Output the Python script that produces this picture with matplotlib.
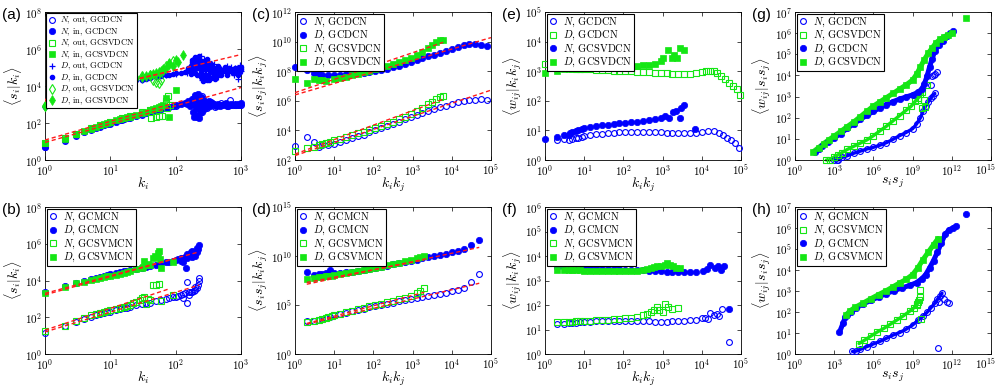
import matplotlib
matplotlib.use("Agg")
import matplotlib.pyplot as plt
import matplotlib.transforms as mtransforms
from matplotlib.ticker import FixedLocator, NullLocator
import numpy as np

plt.rcParams.update({
    "font.family": "serif",
    "font.serif": ["cmr10", "DejaVu Serif"],
    "mathtext.fontset": "cm",
    "axes.formatter.use_mathtext": True,
    "axes.unicode_minus": False,
    "xtick.direction": "in",
    "ytick.direction": "in",
    "xtick.top": True,
    "ytick.right": True,
    "xtick.major.size": 3,
    "ytick.major.size": 3,
    "xtick.major.width": 0.5,
    "ytick.major.width": 0.5,
    "axes.linewidth": 0.6,
    "xtick.labelsize": 8,
    "ytick.labelsize": 8,
})

BLUE = "#0000ff"
GREEN = "#14e614"
RED = "#ff1a1a"

# ── (a) pairs of (k_i, log10 <s_i|k_i>) ───────────────────────────────────────
a_n_out_gcdcn = [(1, 0.68), (2, 1.04), (3, 1.32), (5, 1.62), (7, 1.8), (10, 1.97), (15, 2.15),
                 (20, 2.27), (30, 2.45), (50, 2.67), (70, 2.8), (100, 2.94), (150, 3.05), (200, 3.3),
                 (220, 2.7), (250, 3.45), (280, 3.1), (300, 2.8), (350, 3.15), (400, 2.85), (500, 3.1),
                 (600, 2.9), (676, 3.27), (700, 3.0), (800, 3.05), (900, 3.0), (1000, 2.95)]
a_n_in_gcdcn = [(1, 0.72), (2, 1.08), (3, 1.35), (4, 1.53), (5, 1.65), (6, 1.75), (7, 1.83), (8, 1.9),
                (9, 1.95), (10, 2.0), (12, 2.08), (14, 2.14), (16, 2.2), (18, 2.25), (20, 2.3), (25, 2.4),
                (30, 2.48), (35, 2.55), (40, 2.6), (50, 2.7), (60, 2.77), (70, 2.83), (80, 2.88),
                (90, 2.93), (100, 2.97), (120, 3.02), (140, 3.07), (150, 3.1), (170, 3.2), (190, 3.35),
                (200, 3.5), (210, 3.3), (220, 3.55), (230, 3.1), (240, 2.9), (250, 2.6), (200, 2.45),
                (210, 2.3), (220, 2.8), (260, 3.3), (280, 3.0), (300, 2.85), (320, 3.2), (350, 2.95),
                (380, 3.05), (420, 2.9), (460, 3.0), (500, 2.95), (550, 3.05), (600, 2.95), (650, 3.0),
                (700, 3.05), (800, 3.0), (900, 3.05), (1000, 3.08), (270, 2.75), (240, 3.4), (230, 2.25),
                (155, 3.2), (165, 2.9), (175, 3.3), (185, 2.6), (195, 3.15), (205, 2.8), (215, 3.45),
                (225, 3.0), (235, 2.55), (245, 3.2), (255, 2.95), (265, 3.1), (275, 2.9), (290, 3.15),
                (310, 3.0), (330, 2.9), (360, 3.1), (400, 3.0), (440, 3.05), (480, 2.9), (530, 3.0),
                (580, 3.1), (630, 2.9), (680, 2.95), (750, 3.0), (850, 2.95), (950, 3.0), (200, 3.0),
                (250, 3.35), (300, 3.1), (190, 2.35)]
a_n_out_gcsvdcn = [(1, 0.92), (2, 1.18), (3, 1.42), (5, 1.72), (7, 1.9), (10, 2.07), (15, 2.25),
                   (20, 2.37), (30, 2.57), (40, 2.7), (42, 2.25), (50, 2.3), (55, 2.82), (56, 2.38),
                   (62, 2.4), (70, 3.2), (74, 2.79), (75, 3.45), (82, 2.97)]
a_n_in_gcsvdcn = [(1, 0.9), (2, 1.15), (3, 1.4), (4, 1.58), (5, 1.7), (6, 1.8), (7, 1.88), (8, 1.95),
                  (9, 2.0), (10, 2.05), (12, 2.14), (14, 2.2), (16, 2.26), (18, 2.3), (20, 2.35),
                  (25, 2.45), (30, 2.55), (35, 2.62), (40, 2.68), (45, 2.75), (50, 2.8), (55, 2.85),
                  (60, 2.9), (65, 2.95), (70, 3.35), (80, 2.3), (100, 3.8)]
a_d_out_gcdcn = [(1, 2.85), (2, 3.36), (3, 3.55), (5, 3.77), (7, 3.91), (10, 4.0), (15, 4.15),
                 (20, 4.22), (30, 4.34), (50, 4.49), (70, 4.58), (100, 4.67), (150, 4.7), (180, 5.2),
                 (200, 5.5), (220, 5.45), (240, 5.6), (260, 5.25), (280, 4.8), (300, 5.0), (330, 4.4),
                 (360, 4.55), (400, 4.75), (450, 4.5), (500, 4.9), (560, 4.7), (620, 4.85), (700, 5.05),
                 (780, 4.6), (850, 4.9), (900, 4.37), (950, 5.15), (250, 4.3), (320, 5.35), (600, 5.1),
                 (160, 5.0), (190, 5.35), (210, 5.0), (230, 5.3), (270, 5.45), (290, 4.65), (310, 4.5),
                 (340, 5.0), (380, 5.2), (420, 4.95), (480, 4.7), (540, 5.0), (660, 4.7), (740, 4.85),
                 (820, 5.0), (1000, 4.8)]
a_d_in_gcdcn = [(1, 2.85), (2, 3.38), (3, 3.56), (4, 3.69), (5, 3.78), (6, 3.85), (7, 3.92), (8, 3.96),
                (9, 3.99), (10, 4.01), (12, 4.07), (14, 4.12), (16, 4.16), (18, 4.2), (20, 4.23),
                (25, 4.3), (30, 4.35), (35, 4.4), (40, 4.44), (50, 4.5), (60, 4.55), (70, 4.59),
                (80, 4.62), (90, 4.65), (100, 4.68), (120, 4.72), (140, 4.76), (150, 4.8), (160, 4.95),
                (170, 5.1), (180, 5.3), (190, 5.45), (200, 5.55), (210, 5.4), (220, 5.2), (230, 5.6),
                (240, 5.35), (250, 5.1), (260, 4.9), (270, 4.6), (280, 4.4), (290, 5.2), (300, 4.3),
                (320, 4.5), (340, 4.75), (360, 4.9), (380, 4.6), (400, 5.0), (430, 4.7), (460, 4.85),
                (500, 4.6), (550, 4.9), (600, 4.75), (650, 5.0), (700, 4.8), (800, 4.95), (900, 5.0),
                (1000, 4.9), (200, 4.7), (250, 4.45), (230, 4.95), (350, 5.2), (450, 5.1), (300, 5.45),
                (270, 5.3), (190, 5.05), (210, 4.6), (155, 5.0), (165, 4.85), (175, 5.4), (185, 4.9),
                (195, 5.25), (205, 5.1), (215, 4.95), (225, 5.45), (235, 5.15), (245, 4.75), (255, 5.3),
                (265, 5.05), (275, 4.9), (285, 5.35), (295, 4.6), (310, 4.95), (330, 5.1), (345, 4.45),
                (365, 5.05), (390, 4.8), (410, 4.55), (440, 4.95), (470, 4.65), (520, 4.8), (570, 5.05),
                (620, 4.6), (680, 4.9), (750, 4.7), (850, 4.8), (950, 4.75), (240, 4.5), (260, 4.25),
                (280, 4.55), (320, 4.35), (400, 4.4), (180, 4.75), (170, 4.65), (1000, 5.05),
                (900, 4.6), (600, 4.9)]
a_d_out_gcsvdcn = [(1, 2.92), (2, 3.36), (3, 3.6), (5, 3.86), (7, 4.0), (10, 4.12), (15, 4.27),
                   (20, 4.37), (30, 4.52), (40, 4.62), (45, 4.3), (50, 4.2), (55, 4.15), (60, 4.35),
                   (65, 4.85), (70, 5.1), (80, 5.2), (90, 5.35)]
a_d_in_gcsvdcn = [(1, 2.9), (2, 3.35), (3, 3.58), (4, 3.72), (5, 3.85), (6, 3.92), (7, 3.98), (8, 4.04),
                  (9, 4.08), (10, 4.1), (12, 4.17), (14, 4.22), (16, 4.27), (18, 4.31), (20, 4.35),
                  (25, 4.43), (30, 4.5), (35, 4.55), (40, 4.6), (45, 4.65), (50, 4.68), (55, 4.75),
                  (60, 4.8), (65, 4.9), (70, 5.0), (80, 5.25), (90, 5.1), (100, 5.4), (110, 5.3),
                  (130, 5.68)]
a_fit_d_gcdcn = [(1, 3.18), (1000, 5.7)]
a_fit_d_gcsvdcn = [(1, 3.27), (140, 4.98)]
a_fit_n_gcdcn = [(1, 0.95), (1000, 3.92)]
a_fit_n_gcsvdcn = [(1, 1.08), (140, 3.25)]

# ── (b) pairs of (k_i, log10 <s_i|k_i>) ───────────────────────────────────────
b_n_gcmcn = [(1, 1.17), (2, 1.5), (3, 1.73), (4, 1.91), (5, 2.02), (6, 2.1), (7, 2.17), (8, 2.22),
             (9, 2.27), (10, 2.31), (12, 2.38), (14, 2.44), (16, 2.5), (18, 2.53), (20, 2.56),
             (25, 2.64), (30, 2.71), (35, 2.76), (40, 2.8), (50, 2.89), (60, 2.95), (70, 3.0),
             (80, 3.05), (90, 3.09), (100, 3.12), (110, 3.15), (120, 3.2), (130, 3.25), (140, 3.3),
             (150, 3.9), (150, 2.76), (160, 3.35), (170, 3.4), (180, 3.38), (190, 3.45), (200, 3.5),
             (210, 3.6), (220, 3.75), (230, 4.12), (225, 4.0), (130, 3.05), (160, 3.2), (200, 3.65)]
b_d_gcmcn = [(1, 3.36), (2, 3.72), (3, 3.88), (4, 3.97), (5, 4.08), (6, 4.14), (7, 4.2), (8, 4.25),
             (9, 4.3), (10, 4.35), (12, 4.4), (14, 4.45), (16, 4.5), (18, 4.54), (20, 4.57),
             (25, 4.64), (30, 4.69), (35, 4.74), (40, 4.78), (50, 4.87), (60, 4.93), (70, 5.0),
             (80, 5.03), (90, 5.07), (100, 5.1), (110, 5.15), (120, 5.2), (130, 5.25), (140, 5.3),
             (150, 5.2), (160, 5.35), (170, 5.4), (180, 5.3), (190, 5.45), (200, 5.5), (210, 5.55),
             (220, 5.7), (230, 5.92), (144, 4.69), (150, 5.45), (130, 5.0), (170, 5.55), (200, 5.35),
             (120, 5.05), (180, 5.6), (210, 5.75)]
b_n_gcsvmcn = [(1, 1.26), (2, 1.55), (3, 1.77), (4, 1.95), (5, 2.1), (6, 2.18), (7, 2.25), (8, 2.3),
               (9, 2.36), (10, 2.4), (12, 2.47), (14, 2.53), (16, 2.58), (18, 2.63), (20, 2.68),
               (22, 2.75), (25, 2.85), (28, 2.95), (30, 3.05), (33, 3.12), (35, 2.7), (38, 3.0),
               (40, 2.95), (45, 3.75), (50, 3.78), (55, 3.8), (60, 2.89), (90, 3.2)]
b_d_gcsvmcn = [(1, 3.3), (2, 3.66), (3, 3.84), (4, 3.94), (5, 4.02), (6, 4.08), (7, 4.14), (8, 4.19),
               (9, 4.23), (10, 4.26), (12, 4.32), (14, 4.38), (16, 4.43), (18, 4.47), (20, 4.51),
               (25, 4.6), (30, 4.7), (32, 4.75), (33, 5.05), (35, 4.84), (38, 4.9), (40, 4.85),
               (45, 5.2), (48, 5.35), (50, 5.3), (53, 5.5), (55, 5.6), (58, 5.15), (60, 4.69),
               (90, 5.02)]
b_fit_d_gcmcn = [(1, 3.3), (230, 5.56)]
b_fit_d_gcsvmcn = [(1, 3.22), (100, 5.2)]
b_fit_n_gcmcn = [(1, 1.2), (230, 3.75)]
b_fit_n_gcsvmcn = [(1, 1.3), (80, 3.55)]

# ── (c) pairs of (log10 k_ik_j, log10 <s_is_j|k_ik_j>) ───────────────────────
c_n_gcdcn = [(0, 2.94), (0.3, 3.57), (0.48, 3.24), (0.6, 2.86), (0.7, 3.0), (0.85, 3.02), (1.0, 3.08),
             (1.15, 3.2), (1.3, 3.33), (1.45, 3.46), (1.6, 3.6), (1.75, 3.72), (1.9, 3.86),
             (2.05, 4.02), (2.2, 4.15), (2.35, 4.3), (2.5, 4.45), (2.65, 4.6), (2.8, 4.75),
             (2.95, 4.9), (3.1, 5.04), (3.25, 5.17), (3.4, 5.3), (3.55, 5.43), (3.7, 5.55),
             (3.85, 5.67), (4.0, 5.8), (4.15, 5.9), (4.3, 6.0), (4.45, 6.06), (4.6, 6.08),
             (4.75, 6.09), (4.9, 6.08)]
c_d_gcdcn = [(0, 8.29), (0.3, 8.11), (0.48, 7.89), (0.6, 7.8), (0.7, 7.75), (0.85, 7.71), (1.0, 7.73),
             (1.15, 7.75), (1.3, 7.8), (1.45, 8.02), (1.6, 7.85), (1.75, 7.88), (1.9, 7.92),
             (2.05, 8.0), (2.2, 8.08), (2.35, 8.17), (2.5, 8.27), (2.65, 8.37), (2.8, 8.5),
             (2.95, 8.62), (3.1, 8.75), (3.25, 8.88), (3.4, 9.0), (3.55, 9.12), (3.7, 9.25),
             (3.85, 9.38), (4.0, 9.52), (4.15, 9.65), (4.3, 9.78), (4.45, 9.85), (4.6, 9.86),
             (4.75, 9.8), (4.9, 9.72)]
c_n_gcsvdcn = [(0, 2.63), (0.3, 2.79), (0.48, 2.9), (0.6, 2.98), (0.7, 3.06), (0.78, 3.12), (0.9, 3.22),
               (1.0, 3.32), (1.15, 3.44), (1.3, 3.56), (1.45, 3.68), (1.6, 3.8), (1.75, 3.92),
               (1.9, 4.04), (2.05, 4.16), (2.2, 4.3), (2.35, 4.45), (2.5, 4.6), (2.65, 4.75),
               (2.8, 4.92), (2.95, 5.1), (3.1, 5.3), (3.25, 5.5), (3.4, 5.75), (3.5, 5.95),
               (3.6, 6.1), (3.7, 6.25), (3.78, 6.3)]
c_d_gcsvdcn = [(0, 7.44), (0.3, 7.21), (0.48, 7.5), (0.6, 7.39), (0.7, 7.39), (0.78, 7.35), (0.9, 8.63),
               (1.0, 7.5), (1.15, 7.55), (1.3, 7.63), (1.45, 7.72), (1.6, 7.82), (1.75, 7.92),
               (1.9, 8.03), (2.05, 8.14), (2.2, 8.26), (2.35, 8.38), (2.5, 8.5), (2.65, 8.63),
               (2.8, 8.77), (2.95, 8.92), (3.1, 9.1), (3.25, 9.3), (3.4, 9.55), (3.5, 9.8),
               (3.6, 10.0), (3.7, 10.12), (3.78, 10.1)]
c_fit_d_gcdcn = [(0, 6.4), (5, 10.27)]
c_fit_d_gcsvdcn = [(0, 6.55), (3.78, 9.95)]
c_fit_n_gcdcn = [(0, 2.3), (5, 6.72)]
c_fit_n_gcsvdcn = [(0, 2.4), (3.78, 6.1)]

# ── (d) ───────────────────────────────────────────────────────────────────────
d_n_gcmcn = [(0.3, 3.32), (0.48, 3.39), (0.6, 3.48), (0.7, 3.59), (0.78, 3.68), (0.9, 3.8), (1.0, 3.93),
             (1.15, 4.05), (1.3, 4.2), (1.45, 4.35), (1.6, 4.5), (1.75, 4.62), (1.9, 4.75),
             (2.05, 4.88), (2.2, 5.0), (2.35, 5.12), (2.5, 5.25), (2.65, 5.37), (2.8, 5.5),
             (2.95, 5.62), (3.1, 5.74), (3.25, 5.86), (3.4, 5.96), (3.55, 6.06), (3.7, 6.16),
             (3.85, 6.26), (4.0, 6.38), (4.15, 6.5), (4.3, 6.7), (4.49, 7.32), (4.7, 8.14)]
d_d_gcmcn = [(0.3, 8.34), (0.48, 8.07), (0.6, 8.17), (0.7, 8.2), (0.78, 8.3), (0.9, 8.58), (1.0, 8.27),
             (1.15, 8.3), (1.3, 8.34), (1.45, 8.4), (1.6, 8.5), (1.75, 8.58), (1.9, 8.68),
             (2.05, 8.8), (2.2, 8.9), (2.35, 9.0), (2.5, 9.15), (2.65, 9.25), (2.8, 9.38),
             (2.95, 9.52), (3.1, 9.64), (3.25, 9.76), (3.4, 9.88), (3.55, 9.98), (3.7, 10.1),
             (3.85, 10.22), (4.0, 10.36), (4.15, 10.5), (4.3, 10.68), (4.49, 11.1), (4.7, 11.63)]
d_n_gcsvmcn = [(0.3, 3.25), (0.48, 3.35), (0.6, 3.45), (0.7, 3.6), (0.78, 3.68), (0.85, 3.76),
               (0.95, 3.86), (1.0, 3.95), (1.15, 4.1), (1.3, 4.25), (1.45, 4.4), (1.6, 4.55),
               (1.75, 4.7), (1.9, 4.85), (2.05, 5.0), (2.2, 5.15), (2.35, 5.3), (2.5, 5.45),
               (2.65, 5.6), (2.8, 5.75), (2.95, 5.95), (3.1, 6.2), (3.2, 6.45), (3.3, 6.75)]
d_d_gcsvmcn = [(0.3, 7.66), (0.48, 7.8), (0.6, 7.85), (0.7, 7.9), (0.78, 7.93), (0.85, 7.96),
               (0.95, 8.0), (1.0, 8.07), (1.15, 8.15), (1.3, 8.25), (1.45, 8.34), (1.6, 8.44),
               (1.75, 8.55), (1.9, 8.68), (2.05, 8.8), (2.2, 8.92), (2.35, 9.04), (2.5, 9.16),
               (2.65, 9.3), (2.8, 9.45), (2.95, 9.6), (3.1, 9.75), (3.2, 9.85), (3.3, 9.95)]
d_fit_d_gcmcn = [(0.3, 7.12), (4.7, 10.88)]
d_fit_d_gcsvmcn = [(0.3, 7.3), (3.3, 9.6)]
d_fit_n_gcmcn = [(0.3, 3.05), (4.7, 7.22)]
d_fit_n_gcsvmcn = [(0.3, 3.12), (3.3, 6.3)]

# ── (e) pairs of (log10 k_ik_j, log10 <w_ij|k_ik_j>) ─────────────────────────
e_n_gcdcn = [(0.3, 0.68), (0.48, 0.71), (0.6, 0.69), (0.7, 0.72), (0.78, 0.74), (0.85, 0.76),
             (0.95, 0.79), (1.0, 0.81), (1.15, 0.84), (1.3, 0.87), (1.45, 0.89), (1.6, 0.91),
             (1.75, 0.92), (1.9, 0.93), (2.05, 0.94), (2.2, 0.94), (2.35, 0.94), (2.5, 0.94),
             (2.65, 0.94), (2.8, 0.93), (2.95, 0.93), (3.1, 0.92), (3.25, 0.92), (3.4, 0.91),
             (3.55, 0.91), (3.7, 0.91), (3.85, 0.92), (4.0, 0.95), (4.15, 0.99), (4.3, 0.99),
             (4.45, 0.92), (4.55, 0.85), (4.65, 0.75), (4.75, 0.67), (4.85, 0.57), (4.95, 0.4)]
e_d_gcdcn = [(0, 3.26), (0.3, 3.2), (0.48, 3.15), (0.6, 3.12), (0.7, 3.1), (0.78, 3.08), (0.9, 3.07),
             (1.0, 3.07), (1.15, 3.06), (1.3, 3.05), (1.45, 3.04), (1.6, 3.03), (1.75, 3.02),
             (1.9, 3.01), (2.05, 3.0), (2.2, 2.99), (2.35, 2.98), (2.5, 2.97), (2.65, 2.96),
             (2.8, 2.95), (2.95, 2.94), (3.1, 2.93), (3.25, 2.92), (3.4, 2.91), (3.55, 2.91),
             (3.7, 2.92), (3.85, 2.94), (4.0, 2.97), (4.1, 2.99), (4.2, 3.0), (4.3, 2.99),
             (4.4, 2.95), (4.5, 2.85), (4.6, 2.72), (4.7, 2.6), (4.8, 2.5), (4.9, 2.4), (4.97, 2.2)]
e_n_gcsvdcn = [(0, 0.71), (0.3, 0.77), (0.48, 0.86), (0.6, 0.85), (0.65, 0.9), (0.7, 0.93), (0.78, 0.97),
               (0.85, 1.0), (0.95, 1.04), (1.0, 1.07), (1.15, 1.11), (1.3, 1.15), (1.45, 1.17),
               (1.6, 1.19), (1.75, 1.21), (1.9, 1.24), (2.05, 1.26), (2.2, 1.28), (2.35, 1.3),
               (2.5, 1.32), (2.65, 1.34), (2.8, 1.37), (2.95, 1.41), (3.05, 1.47), (3.17, 1.42),
               (3.27, 1.61), (3.34, 1.67), (3.44, 1.42), (3.48, 1.76), (3.55, 1.85), (3.82, 1.05)]
e_d_gcsvdcn = [(0, 2.94), (0.3, 3.01), (0.48, 3.07), (0.6, 3.08), (0.7, 3.09), (0.78, 3.1), (0.9, 3.1),
               (1.0, 3.11), (1.15, 3.12), (1.3, 3.13), (1.45, 3.14), (1.6, 3.14), (1.75, 3.15),
               (1.9, 3.16), (2.05, 3.17), (2.2, 3.18), (2.35, 3.19), (2.5, 3.2), (2.65, 3.22),
               (2.8, 3.25), (2.97, 3.34), (3.01, 3.43), (3.14, 3.71), (3.23, 3.46), (3.3, 3.54),
               (3.36, 3.43), (3.44, 3.77), (3.54, 3.73)]

# ── (f) ───────────────────────────────────────────────────────────────────────
f_n_gcmcn = [(0.3, 1.23), (0.48, 1.24), (0.6, 1.25), (0.7, 1.27), (0.78, 1.28), (0.9, 1.29), (1.0, 1.31),
             (1.15, 1.32), (1.3, 1.33), (1.45, 1.33), (1.6, 1.34), (1.75, 1.34), (1.9, 1.34),
             (2.05, 1.34), (2.2, 1.34), (2.35, 1.34), (2.5, 1.33), (2.65, 1.33), (2.8, 1.32),
             (2.95, 1.32), (3.1, 1.32), (3.25, 1.33), (3.4, 1.34), (3.55, 1.35), (3.7, 1.37),
             (3.85, 1.4), (4.0, 1.46), (4.08, 1.48), (4.15, 1.42), (4.22, 1.67), (4.3, 1.58),
             (4.38, 1.65), (4.45, 1.55), (4.52, 1.85), (4.7, 0.51)]
f_d_gcmcn = [(0.3, 3.56), (0.48, 3.55), (0.6, 3.54), (0.7, 3.53), (0.78, 3.53), (0.85, 3.52),
             (0.95, 3.51), (1.0, 3.51), (1.15, 3.5), (1.3, 3.49), (1.45, 3.48), (1.6, 3.47),
             (1.75, 3.46), (1.9, 3.45), (2.05, 3.44), (2.2, 3.43), (2.35, 3.42), (2.5, 3.41),
             (2.65, 3.4), (2.8, 3.38), (2.95, 3.37), (3.1, 3.36), (3.25, 3.35), (3.4, 3.34),
             (3.55, 3.33), (3.7, 3.34), (3.85, 3.36), (4.04, 3.39), (4.12, 3.45), (4.21, 3.63),
             (4.34, 3.52), (4.42, 3.6), (4.49, 3.43), (4.57, 3.6), (4.7, 1.84)]
f_n_gcsvmcn = [(0.3, 1.29), (0.48, 1.3), (0.6, 1.31), (0.7, 1.32), (0.78, 1.33), (0.9, 1.34),
               (1.0, 1.35), (1.15, 1.36), (1.3, 1.37), (1.45, 1.38), (1.6, 1.4), (1.75, 1.41),
               (1.9, 1.43), (2.05, 1.45), (2.2, 1.48), (2.35, 1.52), (2.5, 1.58), (2.6, 1.63),
               (2.7, 1.7), (2.78, 1.78), (2.85, 1.9), (2.92, 1.8), (3.0, 1.7), (3.07, 2.03),
               (3.15, 1.93), (3.25, 1.83), (3.4, 1.86)]
f_d_gcsvmcn = [(0.3, 3.43), (0.48, 3.43), (0.6, 3.42), (0.7, 3.42), (0.78, 3.41), (0.9, 3.41),
               (1.0, 3.4), (1.15, 3.4), (1.3, 3.39), (1.45, 3.39), (1.6, 3.38), (1.75, 3.38),
               (1.9, 3.38), (2.05, 3.38), (2.2, 3.39), (2.35, 3.4), (2.5, 3.43), (2.6, 3.47),
               (2.7, 3.5), (2.78, 3.54), (2.85, 3.58), (2.95, 3.6), (3.05, 3.62), (3.12, 3.72),
               (3.2, 3.65), (3.27, 3.58), (3.35, 3.5), (3.44, 3.49)]

# ── (g) pairs of (log10 s_is_j, log10 <w_ij|s_is_j>) ─────────────────────────
g_n_gcdcn = [(3.0, 0.0), (3.2, 0.0), (3.3, 0.0), (3.6, 0.12), (4.0, 0.2), (4.5, 0.32), (5.0, 0.42),
             (5.5, 0.52), (6.0, 0.6), (6.5, 0.7), (7.0, 0.82), (7.5, 0.98), (8.0, 1.15), (8.5, 1.3),
             (9.0, 1.48), (9.3, 1.7), (9.6, 2.0), (9.8, 2.3), (10.0, 2.55), (10.2, 2.75),
             (10.4, 2.92), (10.55, 3.05), (10.7, 3.15)]
g_n_gcdcn_extra = [(10.4, 3.55), (10.45, 3.95), (10.6, 4.0), (10.75, 4.08), (10.9, 4.15)]
g_n_gcsvdcn = [(2.4, 0.0), (2.7, 0.0), (3.0, 0.15), (3.3, 0.25), (3.6, 0.35), (4.0, 0.5), (4.5, 0.65),
               (5.0, 0.8), (5.5, 0.95), (6.0, 1.15), (6.5, 1.38), (7.0, 1.6), (7.5, 1.85),
               (8.0, 2.1), (8.5, 2.35), (8.9, 2.55), (9.2, 2.78), (9.45, 2.95), (9.6, 3.1),
               (9.75, 3.2)]
g_n_gcsvdcn_extra = [(10.08, 3.54), (9.69, 2.48), (9.95, 2.52), (9.44, 2.83), (9.85, 2.85)]
g_d_gcdcn = [(1.5, 0.39), (1.8, 0.5), (2.1, 0.65), (2.5, 0.85), (3.0, 1.05), (3.5, 1.25), (4.0, 1.5),
             (4.5, 1.72), (5.0, 1.92), (5.5, 2.12), (6.0, 2.3), (6.5, 2.47), (7.0, 2.62),
             (7.5, 2.76), (8.0, 2.88), (8.5, 2.98), (9.0, 3.08), (9.4, 3.2), (9.7, 3.35),
             (9.9, 3.6), (10.1, 3.95), (10.3, 4.4), (10.5, 4.8), (10.7, 5.15), (11.0, 5.45),
             (11.3, 5.65), (11.6, 5.85), (11.9, 6.0), (12.1, 6.08)]
g_d_gcsvdcn = [(1.4, 0.39), (1.8, 0.58), (2.2, 0.78), (2.6, 0.96), (3.0, 1.13), (3.5, 1.35),
               (4.0, 1.58), (4.5, 1.8), (5.0, 2.05), (5.5, 2.3), (6.0, 2.55), (6.5, 2.75),
               (7.0, 2.95), (7.5, 3.15), (8.0, 3.35), (8.5, 3.55), (9.0, 3.78), (9.3, 4.05),
               (9.6, 4.4), (9.9, 4.75), (10.2, 5.05), (10.5, 5.3), (10.8, 5.55), (11.1, 5.7),
               (11.4, 5.82), (11.7, 5.92), (12.0, 6.02)]
g_d_gcsvdcn_extra = [(13.1, 6.72)]

# ── (h) ───────────────────────────────────────────────────────────────────────
h_n_gcmcn = [(4.4, 0.12), (4.7, 0.14), (5.0, 0.22), (5.5, 0.35), (6.0, 0.48), (6.5, 0.6), (7.0, 0.75),
             (7.5, 0.9), (8.0, 1.02), (8.5, 1.18), (9.0, 1.38), (9.4, 1.6), (9.8, 1.8), (10.1, 1.98),
             (10.4, 2.2), (10.7, 2.42), (10.9, 2.6), (11.1, 2.75), (11.25, 2.9)]
h_n_gcmcn_extra = [(11.4, 2.6), (11.6, 2.5), (11.8, 2.42), (11.0, 2.5), (10.92, 0.28)]
h_n_gcsvmcn = [(4.9, 0.5), (5.3, 0.65), (5.8, 0.85), (6.3, 1.05), (6.8, 1.22), (7.3, 1.42), (7.8, 1.62),
               (8.3, 1.82), (8.8, 2.05), (9.1, 2.2), (9.35, 2.38), (9.5, 2.55)]
h_n_gcsvmcn_extra = [(9.57, 3.05), (9.62, 1.67), (9.44, 2.46), (9.31, 2.34), (9.55, 2.7)]
h_d_gcmcn = [(3.4, 1.03), (3.7, 1.5), (3.85, 1.75), (4.0, 1.85), (4.3, 2.0), (4.7, 2.2), (5.2, 2.38),
             (5.8, 2.55), (6.4, 2.72), (7.0, 2.88), (7.6, 3.02), (8.2, 3.15), (8.8, 3.27),
             (9.3, 3.4), (9.7, 3.58), (10.0, 3.78), (10.3, 4.1), (10.6, 4.45), (10.9, 4.85),
             (11.2, 5.3), (11.5, 5.7), (11.8, 5.92), (12.1, 6.0), (12.3, 6.08)]
h_d_gcmcn_extra = [(13.05, 6.65)]
h_d_gcsvmcn = [(3.9, 1.85), (4.2, 2.05), (4.6, 2.22), (5.2, 2.42), (5.8, 2.63), (6.4, 2.83),
               (7.0, 3.02), (7.5, 3.2), (8.0, 3.38), (8.5, 3.55), (9.0, 3.78), (9.4, 4.1),
               (9.8, 4.5), (10.2, 4.85), (10.6, 5.2), (10.95, 5.5)]

# ── marker styles (MATLAB-like) ───────────────────────────────────────────────
STYLE = {
    "bo": dict(marker="o", mfc="none", mec=BLUE, ms=4.2, mew=0.8),
    "bO": dict(marker="o", mfc=BLUE, mec=BLUE, ms=4.6, mew=0.5),
    "gs": dict(marker="s", mfc="none", mec=GREEN, ms=3.8, mew=0.8),
    "gS": dict(marker="s", mfc=GREEN, mec=GREEN, ms=4.0, mew=0.5),
    "b+": dict(marker="+", mfc=BLUE, mec=BLUE, ms=5, mew=0.9),
    "b.": dict(marker=".", mfc=BLUE, mec=BLUE, ms=6),
    "gd": dict(marker="d", mfc="none", mec=GREEN, ms=4.6, mew=0.8),
    "gD": dict(marker="d", mfc=GREEN, mec=GREEN, ms=4.6, mew=0.5),
}
COLOR = {"b": BLUE, "g": GREEN}


def to_xy(pairs, logx):
    arr = np.array(pairs, dtype=float)
    x = 10 ** arr[:, 0] if logx else arr[:, 0]
    return x, 10 ** arr[:, 1]


def decades(lo, hi, step=1):
    return FixedLocator(10.0 ** np.arange(lo, hi + 0.5 * step, step))


W = 196 / 997
LEFTS = [45 / 997, 295 / 997, 545 / 997, 795 / 997]
TOP = (1 - 160 / 388, 148 / 388)
BOT = (1 - 354 / 388, 147 / 388)

PANELS = [
    dict(tag="(a)", col=0, row=TOP, logx=False, xl=(0, 3), yl=(0, 8), ys=2,
         xlabel=r"$k_i$", ylabel=r"$\langle s_i|k_i\rangle$", lfs=6.2,
         series=[(a_n_out_gcdcn, "bo", r"$N$, out, GCDCN"),
                 (a_n_in_gcdcn, "bO", r"$N$, in, GCDCN"),
                 (a_n_out_gcsvdcn, "gs", r"$N$, out, GCSVDCN"),
                 (a_n_in_gcsvdcn, "gS", r"$N$, in, GCSVDCN"),
                 (a_d_out_gcdcn, "b+", r"$D$, out, GCDCN"),
                 (a_d_in_gcdcn, "b.", r"$D$, in, GCDCN"),
                 (a_d_out_gcsvdcn, "gd", r"$D$, out, GCSVDCN"),
                 (a_d_in_gcsvdcn, "gD", r"$D$, in, GCSVDCN")],
         fits=[a_fit_d_gcdcn, a_fit_d_gcsvdcn, a_fit_n_gcdcn, a_fit_n_gcsvdcn]),
    dict(tag="(b)", col=0, row=BOT, logx=False, xl=(0, 3), yl=(0, 8), ys=2,
         xlabel=r"$k_i$", ylabel=r"$\langle s_i|k_i\rangle$", lfs=7.5,
         series=[(b_n_gcmcn, "bo", r"$N$, GCMCN"),
                 (b_d_gcmcn, "bO", r"$D$, GCMCN"),
                 (b_n_gcsvmcn, "gs", r"$N$, GCSVMCN"),
                 (b_d_gcsvmcn, "gS", r"$D$, GCSVMCN")],
         fits=[b_fit_d_gcmcn, b_fit_d_gcsvmcn, b_fit_n_gcmcn, b_fit_n_gcsvmcn]),
    dict(tag="(c)", col=1, row=TOP, logx=True, xl=(0, 5), yl=(2, 12), ys=2,
         xlabel=r"$k_ik_j$", ylabel=r"$\langle s_is_j|k_ik_j\rangle$", lfs=7.5,
         series=[(c_n_gcdcn, "bo", r"$N$, GCDCN"),
                 (c_d_gcdcn, "bO", r"$D$, GCDCN"),
                 (c_n_gcsvdcn, "gs", r"$N$, GCSVDCN"),
                 (c_d_gcsvdcn, "gS", r"$D$, GCSVDCN")],
         fits=[c_fit_d_gcdcn, c_fit_d_gcsvdcn, c_fit_n_gcdcn, c_fit_n_gcsvdcn]),
    dict(tag="(d)", col=1, row=BOT, logx=True, xl=(0, 5), yl=(0, 15), ys=5,
         xlabel=r"$k_ik_j$", ylabel=r"$\langle s_is_j|k_ik_j\rangle$", lfs=7.5,
         series=[(d_n_gcmcn, "bo", r"$N$, GCMCN"),
                 (d_d_gcmcn, "bO", r"$D$, GCMCN"),
                 (d_n_gcsvmcn, "gs", r"$N$, GCSVMCN"),
                 (d_d_gcsvmcn, "gS", r"$D$, GCSVMCN")],
         fits=[d_fit_d_gcmcn, d_fit_d_gcsvmcn, d_fit_n_gcmcn, d_fit_n_gcsvmcn]),
    dict(tag="(e)", col=2, row=TOP, logx=True, xl=(0, 5), yl=(0, 5), ys=1,
         xlabel=r"$k_ik_j$", ylabel=r"$\langle w_{ij}|k_ik_j\rangle$", lfs=7.5,
         series=[(e_n_gcdcn, "bo", r"$N$, GCDCN"),
                 (e_d_gcdcn, "gs", r"$D$, GCDCN"),
                 (e_n_gcsvdcn, "bO", r"$N$, GCSVDCN"),
                 (e_d_gcsvdcn, "gS", r"$D$, GCSVDCN")],
         fits=[]),
    dict(tag="(f)", col=2, row=BOT, logx=True, xl=(0, 5), yl=(0, 6), ys=1,
         xlabel=r"$k_ik_j$", ylabel=r"$\langle w_{ij}|k_ik_j\rangle$", lfs=7.5,
         series=[(f_n_gcmcn, "bo", r"$N$, GCMCN"),
                 (f_d_gcmcn, "bO", r"$D$, GCMCN"),
                 (f_n_gcsvmcn, "gs", r"$N$, GCSVMCN"),
                 (f_d_gcsvmcn, "gS", r"$D$, GCSVMCN")],
         fits=[]),
    dict(tag="(g)", col=3, row=TOP, logx=True, xl=(0, 15), xs=3, yl=(0, 7), ys=1,
         xlabel=r"$s_is_j$", ylabel=r"$\langle w_{ij}|s_is_j\rangle$", lfs=7.5,
         series=[(g_n_gcdcn, "bo", r"$N$, GCDCN", g_n_gcdcn_extra),
                 (g_n_gcsvdcn, "gs", r"$N$, GCSVDCN", g_n_gcsvdcn_extra),
                 (g_d_gcdcn, "bO", r"$D$, GCDCN", []),
                 (g_d_gcsvdcn, "gS", r"$D$, GCSVDCN", g_d_gcsvdcn_extra)],
         fits=[]),
    dict(tag="(h)", col=3, row=BOT, logx=True, xl=(0, 15), xs=3, yl=(0, 7), ys=1,
         xlabel=r"$s_is_j$", ylabel=r"$\langle w_{ij}|s_is_j\rangle$", lfs=7.5,
         series=[(h_n_gcmcn, "bo", r"$N$, GCMCN", h_n_gcmcn_extra),
                 (h_n_gcsvmcn, "gs", r"$N$, GCSVMCN", h_n_gcsvmcn_extra),
                 (h_d_gcmcn, "bO", r"$D$, GCMCN", h_d_gcmcn_extra),
                 (h_d_gcsvmcn, "gS", r"$D$, GCSVMCN", [])],
         fits=[]),
]

fig = plt.figure(figsize=(9.97, 3.88), dpi=100)

for p in PANELS:
    ax = fig.add_axes([LEFTS[p["col"]], p["row"][0], W, p["row"][1]])
    ax.set_xscale("log")
    ax.set_yscale("log")

    for s in p["series"]:
        pairs, key, label = s[0], s[1], s[2]
        x, y = to_xy(pairs, p["logx"])
        if len(s) > 3:
            # dense curve: many overlapping markers in the original
            ax.plot(x, y, "-", color=COLOR[key[0]],
                    lw=3.6 if key[1].isupper() else 2.4, solid_capstyle="round",
                    solid_joinstyle="round", clip_on=False, zorder=2)
        ax.plot(x, y, ls="none", label=label, clip_on=False, zorder=3, **STYLE[key])
        if len(s) > 3 and len(s[3]):
            ex, ey = to_xy(s[3], p["logx"])
            ax.plot(ex, ey, ls="none", clip_on=False, zorder=3, **STYLE[key])

    for fit in p["fits"]:
        fx, fy = to_xy(fit, p["logx"])
        ax.plot(fx, fy, color=RED, lw=1.0, dashes=(3, 2), zorder=4)

    ax.set_xlim(10.0 ** p["xl"][0], 10.0 ** p["xl"][1])
    ax.set_ylim(10.0 ** p["yl"][0], 10.0 ** p["yl"][1])
    ax.xaxis.set_major_locator(decades(p["xl"][0], p["xl"][1], p.get("xs", 1)))
    ax.yaxis.set_major_locator(decades(p["yl"][0], p["yl"][1], p["ys"]))
    ax.xaxis.set_minor_locator(NullLocator())
    ax.yaxis.set_minor_locator(NullLocator())
    ax.tick_params(pad=2)
    ax.set_xlabel(p["xlabel"], fontsize=10, labelpad=-1.5)
    ax.set_ylabel(p["ylabel"], fontsize=10, labelpad=1)

    if p["col"] == 3:
        # keep the rightmost tick label (10^15) inside the picture
        fig.canvas.draw()
        last = ax.get_xticklabels()[-1]
        last.set_transform(last.get_transform() +
                           mtransforms.ScaledTranslation(-6 / 100, 0, fig.dpi_scale_trans))

    leg = ax.legend(loc="upper left", fontsize=p["lfs"], frameon=True, fancybox=False,
                    edgecolor="black", framealpha=1, handlelength=0.9, handletextpad=0.5,
                    borderpad=0.2, labelspacing=0.0, borderaxespad=0.15, numpoints=1,
                    handleheight=0.5)
    leg.get_frame().set_linewidth(0.8)
    leg.set_zorder(10)

    x0 = LEFTS[p["col"]] - 43 / 997
    y0 = p["row"][0] + p["row"][1] - 3 / 388
    fig.text(x0, y0, p["tag"], family="Liberation Sans", fontsize=11, ha="left", va="center")

fig.savefig("out.png", dpi=100)
